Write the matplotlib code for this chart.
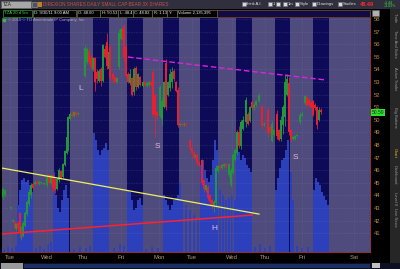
import matplotlib
matplotlib.use("Agg")
import matplotlib.pyplot as plt
from matplotlib.patches import Rectangle

plt.rcParams["font.family"] = ["Liberation Sans", "DejaVu Sans"]

W, H = 400, 269

# palette (thinkorswim dark theme)
BG_SESSION = "#4f4b7d"
BG_NIGHT = "#0d0b57"
VOL_BLUE = "#2c40bc"
UP = "#23953c"
DOWN = "#e6202e"
AXIS_TXT = "#c08a48"
GRID = "#8a86b8"

# ---- data -------------------------------------------------------------
# time axis is "session clock" units (one day ~ 37.7 units)
day_ticks = [10, 47, 83, 121, 159, 192, 232, 265, 302, 354]
day_labels = ["Tue", "Wed", "Thu", "Fri", "Mon", "Tue", "Wed", "Thu", "Fri", "Sat"]

night_start = [18, 54, 93, 127, 163, 200, 236, 275, 313]
night_end = [33, 70, 109, 143, 179, 218, 252, 290, 329]

price_ticks = list(range(41, 59))

# 5-minute candles: time, open, high, low, close
c_t = [3, 5, 11, 13, 15, 16, 18, 20, 21, 22, 23, 25, 27, 29, 31, 33, 35, 37, 39, 41,
       44, 47, 49, 51, 53, 55, 57, 59, 61, 63, 65, 67, 68, 70, 72, 74, 76, 78,
       85, 87, 89, 91, 93, 95, 97, 99, 101, 103, 105, 107, 109, 110, 113, 115, 117,
       119, 121, 123, 124, 126, 128, 130, 132, 134, 136, 138, 140, 143, 145, 147, 149,
       151, 153, 155, 157, 160, 162, 164, 166, 168, 170, 172, 174, 176, 178, 180, 182,
       184, 186, 190, 192, 194, 196, 197, 199, 202, 204, 206, 208, 210, 212, 214, 216,
       218, 220, 222, 224, 226, 229, 231, 233, 235, 237, 239, 241, 243, 246, 248, 250,
       252, 254, 256, 259, 262, 264, 268, 270, 272, 274, 277, 279, 281, 283, 285, 287,
       289, 291, 293, 295, 297, 300, 302, 305, 307, 309, 311, 313, 315, 317, 319, 321]
c_open = [43.9, 44.0, 43.0, 42.0, 41.8, 41.3, 41.8, 42.6, 40.9, 41.4, 40.8, 41.6, 42.5, 43.3, 44.0, 44.9, 44.9, 45.1, 44.9, 45.0,
          44.9, 44.8, 45.6, 45.0, 45.6, 45.3, 44.5, 45.2, 45.9, 45.5, 46.4, 47.4, 47.6, 50.1, 50.5, 50.3, 50.6, 50.5,
          53.5, 54.6, 55.5, 55.0, 54.0, 54.9, 53.8, 53.1, 54.0, 53.1, 55.6, 56.2, 54.0, 55.8, 53.6, 53.4, 53.0,
          54.2, 56.4, 57.3, 57.0, 55.8, 53.6, 52.9, 53.3, 52.2, 54.1, 52.6, 53.4, 52.7, 53.0, 52.7, 52.8,
          53.0, 53.8, 52.0, 50.6, 50.3, 50.1, 51.0, 54.5, 52.0, 52.5, 53.0, 53.9, 53.0, 52.4, 49.6, 49.7,
          49.6, 49.7, 48.4, 47.8, 47.4, 47.0, 47.2, 46.6, 46.8, 45.2, 44.4, 44.7, 44.0, 43.6, 43.2, 43.4,
          45.9, 46.3, 46.2, 46.3, 46.5, 45.6, 44.8, 45.8, 46.8, 47.4, 49.0, 47.9, 49.3, 49.8, 50.5, 49.9,
          51.4, 50.9, 51.2, 51.5, 51.1, 49.6, 50.8, 49.4, 48.3, 48.8, 50.5, 49.2, 48.5, 49.6, 50.2, 52.0,
          52.9, 49.2, 48.5, 48.5, 48.7, 49.8, 50.3, 51.3, 51.8, 51.6, 51.4, 51.5, 51.2, 51.0, 50.0, 50.8]
c_high = [44.7, 44.5, 43.1, 42.1, 42.0, 41.8, 42.0, 42.7, 41.6, 41.5, 42.0, 42.8, 43.6, 44.5, 45.0, 45.0, 45.2, 45.2, 45.2, 45.1,
          45.0, 45.6, 45.7, 45.7, 45.7, 45.4, 45.4, 46.2, 46.0, 46.6, 47.6, 48.8, 50.3, 50.6, 50.7, 50.7, 50.7, 50.6,
          55.9, 55.8, 55.7, 55.2, 55.0, 55.0, 54.0, 54.0, 54.2, 56.0, 55.9, 56.9, 55.5, 56.0, 53.8, 53.5, 53.4,
          57.2, 57.3, 57.5, 57.6, 55.9, 53.8, 54.0, 53.4, 54.2, 54.3, 53.7, 53.5, 53.1, 53.1, 53.0, 53.1,
          53.1, 54.0, 52.1, 50.8, 52.8, 51.8, 53.1, 54.8, 53.1, 54.0, 54.2, 54.0, 53.1, 52.6, 49.8, 49.8,
          49.8, 49.8, 48.5, 47.9, 47.5, 47.3, 47.3, 46.7, 46.9, 45.3, 44.9, 44.8, 44.1, 43.7, 43.6, 46.4,
          46.4, 46.4, 46.5, 46.6, 46.6, 46.6, 46.2, 47.4, 47.7, 49.2, 49.5, 50.0, 50.3, 51.8, 50.6, 51.1,
          51.6, 51.3, 51.6, 52.1, 51.2, 49.8, 50.9, 49.5, 49.9, 49.3, 50.8, 49.3, 50.3, 51.2, 53.6, 53.6,
          53.4, 49.3, 48.7, 48.8, 48.9, 50.6, 50.6, 52.0, 51.9, 51.7, 51.5, 51.6, 51.3, 51.1, 51.0, 50.9]
c_low = [43.7, 43.9, 42.9, 41.9, 41.3, 41.2, 41.1, 40.6, 40.5, 40.8, 40.7, 41.5, 42.4, 43.2, 43.8, 44.5, 44.8, 44.8, 44.8, 44.9,
         44.8, 44.7, 44.9, 44.9, 44.3, 44.2, 44.4, 45.1, 45.3, 45.4, 46.3, 47.3, 47.5, 50.0, 50.2, 50.2, 50.3, 50.4,
         53.4, 54.4, 54.4, 54.0, 53.9, 52.3, 52.9, 53.0, 52.7, 53.0, 54.9, 54.0, 53.9, 53.1, 53.0, 52.9, 52.9,
         54.0, 56.3, 56.2, 54.7, 53.4, 52.9, 52.8, 51.9, 52.0, 52.4, 52.5, 52.7, 52.6, 52.7, 52.6, 52.7,
         52.7, 50.2, 48.6, 50.1, 50.2, 49.6, 50.9, 50.8, 51.9, 52.3, 52.5, 53.1, 52.2, 49.4, 49.5, 49.5,
         49.5, 49.5, 47.6, 47.3, 46.9, 46.9, 46.4, 46.3, 44.8, 44.3, 44.3, 43.6, 43.3, 42.9, 42.7, 43.1,
         45.8, 46.1, 46.1, 46.2, 46.2, 45.5, 44.7, 45.7, 46.7, 47.2, 47.8, 47.7, 49.2, 49.4, 49.6, 49.8,
         50.8, 50.8, 51.1, 51.4, 49.3, 49.5, 48.6, 48.9, 48.2, 48.7, 48.5, 48.3, 48.3, 48.9, 49.5, 51.9,
         48.8, 48.2, 48.4, 48.4, 48.6, 49.7, 50.2, 51.2, 51.1, 51.1, 50.9, 50.3, 50.8, 49.3, 49.9, 50.5]
c_close = [44.5, 44.4, 43.0, 42.0, 41.4, 41.7, 41.3, 40.9, 41.5, 40.9, 41.8, 42.6, 43.5, 44.3, 44.8, 44.6, 45.1, 44.9, 45.1, 45.0,
           44.9, 45.5, 45.0, 45.6, 44.6, 44.4, 45.3, 46.0, 45.4, 46.5, 47.5, 48.6, 50.2, 50.5, 50.3, 50.6, 50.4, 50.5,
           55.7, 55.6, 54.6, 54.2, 54.9, 53.0, 53.2, 53.9, 53.1, 55.9, 55.0, 54.3, 55.4, 53.3, 53.2, 53.0, 53.3,
           56.9, 57.2, 56.3, 55.0, 53.5, 53.0, 53.6, 52.0, 54.0, 52.6, 53.6, 52.8, 53.0, 52.8, 52.9, 53.0,
           52.8, 50.4, 50.5, 50.3, 52.6, 51.5, 53.0, 51.0, 53.0, 53.6, 53.8, 53.2, 52.3, 49.6, 49.7, 49.6,
           49.7, 49.6, 47.8, 47.4, 47.0, 47.2, 46.6, 46.4, 45.0, 44.5, 44.8, 43.8, 43.5, 43.2, 43.5, 46.2,
           46.3, 46.2, 46.4, 46.5, 46.3, 46.5, 46.0, 47.2, 47.6, 49.0, 47.9, 49.8, 50.0, 51.6, 49.7, 51.0,
           50.9, 51.2, 51.5, 52.0, 49.5, 49.7, 49.0, 49.0, 49.7, 49.2, 48.7, 48.4, 50.0, 51.0, 53.0, 53.2,
           49.0, 48.4, 48.6, 48.7, 48.8, 50.4, 50.5, 51.9, 51.2, 51.2, 51.0, 50.4, 50.9, 49.6, 50.8, 50.59]

# volume (thousands of shares)
vol_t = [4, 8, 12, 16,
         18, 20, 22, 24, 26, 28, 30, 32,
         36, 40, 44, 48, 51,
         54, 56, 58, 60, 62, 64, 66, 68,
         74, 80, 86, 90,
         94, 96, 98, 100, 102, 104, 106, 108,
         114, 120, 124,
         128, 130, 132, 134, 136, 138, 140, 142,
         146, 152, 158,
         164, 166, 168, 170, 172, 174, 176, 178,
         180, 182, 186, 190, 194, 198,
         201, 203, 205, 207, 209, 211, 213, 215, 217,
         220, 223, 226, 229, 232, 235,
         237, 239, 241, 243, 245, 247, 249, 251,
         255, 260, 265, 270,
         276, 278, 280, 282, 284, 286, 288,
         291, 293, 297, 302, 308,
         314, 316, 318, 320, 322, 324, 326, 328]
vol = [15, 25, 20, 30,
       235, 310, 360, 370, 350, 360, 335, 300,
       20, 30, 15, 40, 50,
       400, 285, 220, 200, 260, 310, 335, 270,
       15, 25, 20, 30,
       595, 560, 510, 485, 510, 520, 545, 510,
       20, 40, 30,
       310, 300, 260, 210, 220, 260, 270, 235,
       15, 25, 20,
       285, 260, 235, 210, 235, 260, 270, 285,
       345, 260, 235, 210, 185, 160,
       435, 460, 410, 370, 350, 385, 460, 560, 510,
       310, 285, 260, 270, 285, 260,
       510, 500, 460, 485, 470, 435, 420, 400,
       25, 40, 20, 30,
       310, 370, 420, 460, 470, 510, 560,
       400, 260, 30, 20, 25,
       310, 370, 350, 335, 300, 280, 260, 235]

# drawings on the chart
yellow_t, yellow_p = [2, 259], [46.17, 42.52]
red_t, red_p = [2, 252], [40.94, 42.44]
magenta_t, magenta_p = [128, 326], [54.98, 53.16]
marks = [("L", 81, 52.5, "#c4c4d4"), ("S", 157, 47.9, "#f2b4cc"),
         ("H", 214, 41.4, "#e4b4e8"), ("S", 295, 47.0, "#f2b4cc")]

# ---- figure -----------------------------------------------------------
fig = plt.figure(figsize=(W / 100, H / 100), dpi=100, facecolor="black")

# chrome layer in pixel coordinates
ui = fig.add_axes([0, 0, 1, 1])
ui.set_xlim(0, W)
ui.set_ylim(H, 0)
ui.axis("off")


def rect(x, y, w, h, fc, ec="none", lw=0.5, z=1):
    ui.add_patch(Rectangle((x, y), w, h, facecolor=fc, edgecolor=ec, linewidth=lw, zorder=z))


def txt(x, y, s, color="#e0e0e0", size=3.2, **kw):
    ui.text(x, y, s, color=color, fontsize=size, va="center", **kw)


# toolbar row
rect(0, 0, W, 8.5, "#2f2f3d")
rect(1, 1, 30, 6.5, "#a8a8a8", "#606060")
txt(3, 4.3, "TZA", color="#202020", size=3.4)
rect(32, 1.5, 5, 5, "#505060", "#909090")
rect(38, 1.5, 4, 5, "#c08020")
txt(43, 4.3, "DIREXION SHARES DAILY SMALL CAP BEAR 3X SHARES", color="#c85050", size=3.3)
for bx, bw, label in [(242, 24, "think A.I."), (268, 6, "1"), (276, 6, ""), (283, 10, "1m"),
                      (295, 16, "Style"), (312, 25, "Drawings"), (338, 21, "Studies")]:
    rect(bx, 1.8, 3.5, 4.5, "#d8d8e8", "#707070")
    if label:
        txt(bx + 4.5, 4.3, label, color="#e8e8e8", size=3.0)
txt(360, 4.5, "48.49", color="#ff2a2a", size=4.0, weight="bold")
txt(384, 2.6, "+1.44", color="#30e040", size=2.6)
txt(384, 6.2, "+3.03%", color="#30e040", size=2.6)

# info row
rect(0, 8.5, W, 9, "black")
rect(3, 9.5, 29, 7, "black", "#30a030")
txt(4.5, 13, "TZA 20 d 5m", color="#40e040", size=3.1)
info = [(33, 43, "D: 9/30/11 9:00 AM"), (77, 23, "O: 48.60"), (100, 18, "H: 50.53"),
        (118, 15, "L: 48.4"), (133, 19, "C: 48.82"), (152, 15, "R: 1.13"),
        (167, 10, "Y:"), (177, 40, "Volume 2,135,395")]
for bx, bw, label in info:
    rect(bx, 9.5, bw, 7, "black", "#7a6a50")
    txt(bx + 1.5, 13, label, color="#f0f0f0", size=3.0)
rect(217, 9.5, 153, 7, "#0e0b45", "#8a5030")
rect(372, 10, 7, 6, "#b0b0b0", "#606060")

# right-hand tab strip
rect(390, 8.5, 10, 255, "#262626")
tabs = [("Trade", 18), ("Time And Sales", 44), ("Active Trader", 79), ("Big Buttons", 117),
        ("Chart", 153), ("Dashboard", 175), ("Level II", 198), ("Live News", 217)]
for name, yy in tabs:
    ui.text(395, yy, name, color="#e0c020" if name == "Chart" else "#9a9a9a", fontsize=2.9,
            rotation=270, ha="center", va="center")

# bottom scroll bar
rect(0, 262.5, W, 6.5, "#0c1020")
rect(1, 263, 22, 5.5, "#9a9a9a")
rect(24, 263.5, 346, 4.5, "#1c2e66")
rect(372, 263, 8, 5, "#c0c0c0")

# ---- main chart -------------------------------------------------------
rect_ax = [2 / W, (H - 252) / H, 368 / W, 234 / H]

axv = fig.add_axes(rect_ax, facecolor=BG_SESSION)
axv.set_xlim(2, 370)
axv.set_ylim(0, 1170)
for s, e in zip(night_start, night_end):
    axv.axvspan(s, e, color=BG_NIGHT, lw=0, zorder=0)
axv.bar(vol_t, vol, width=2.2, color=VOL_BLUE, lw=0, zorder=1)
axv.set_xticks([])
axv.set_yticks([])
for sp in axv.spines.values():
    sp.set_visible(False)

ax = fig.add_axes(rect_ax)
ax.patch.set_visible(False)
ax.set_xlim(2, 370)
ax.set_ylim(39.51, 58.08)

for p in price_ticks:
    ax.axhline(p, color=GRID, lw=0.4, ls=(0, (1, 2)), alpha=0.55, zorder=1)
for t in day_ticks:
    ax.axvline(t, color=GRID, lw=0.4, ls=(0, (1, 2)), alpha=0.45, zorder=1)

colors = [UP if c >= o else DOWN for o, c in zip(c_open, c_close)]
ax.vlines(c_t, c_low, c_high, colors=colors, lw=0.6, zorder=3)
bodies = [max(abs(c - o), 0.08) for o, c in zip(c_open, c_close)]
ax.bar(c_t, bodies, bottom=[min(o, c) for o, c in zip(c_open, c_close)],
       width=1.5, color=colors, lw=0, zorder=4)

ax.plot(yellow_t, yellow_p, color="#f0f060", lw=0.9, zorder=5)
ax.plot(red_t, red_p, color="#ff2030", lw=1.1, zorder=5)
ax.plot(magenta_t, magenta_p, color="#e020e0", lw=1.0, ls=(0, (4, 2)), zorder=5)
for s, t, p, col in marks:
    ax.text(t, p, s, color=col, fontsize=6, ha="center", va="center", zorder=6)

ax.text(8, 57.95, "\u00a9 2010 \u00a9 TD Ameritrade IP Company, Inc.", color="#a8a8b0",
        fontsize=3.0, va="center", zorder=6)
ax.plot([4], [57.95], marker="s", ms=2, color="#30c040", zorder=6)

ax.yaxis.tick_right()
ax.set_yticks(price_ticks)
ax.set_yticklabels([str(p) for p in price_ticks])
ax.tick_params(axis="y", length=0, pad=2.5, labelsize=4.2, labelcolor=AXIS_TXT)
ax.set_xticks(day_ticks)
ax.set_xticklabels(day_labels)
ax.tick_params(axis="x", length=0, pad=2.5, labelsize=4.2, labelcolor="#b09a78")
for side in ["top", "left"]:
    ax.spines[side].set_visible(False)
for side in ["right", "bottom"]:
    ax.spines[side].set_color("#8a3040")
    ax.spines[side].set_linewidth(0.8)

# last price tag
ax.text(371.5, 50.59, "50.59", color="#0a3a0a", fontsize=3.6, va="center", ha="left",
        bbox=dict(boxstyle="square,pad=0.15", facecolor="#30e030", edgecolor="none"),
        zorder=7, clip_on=False)

fig.savefig("out.png", dpi=100, facecolor="black")
